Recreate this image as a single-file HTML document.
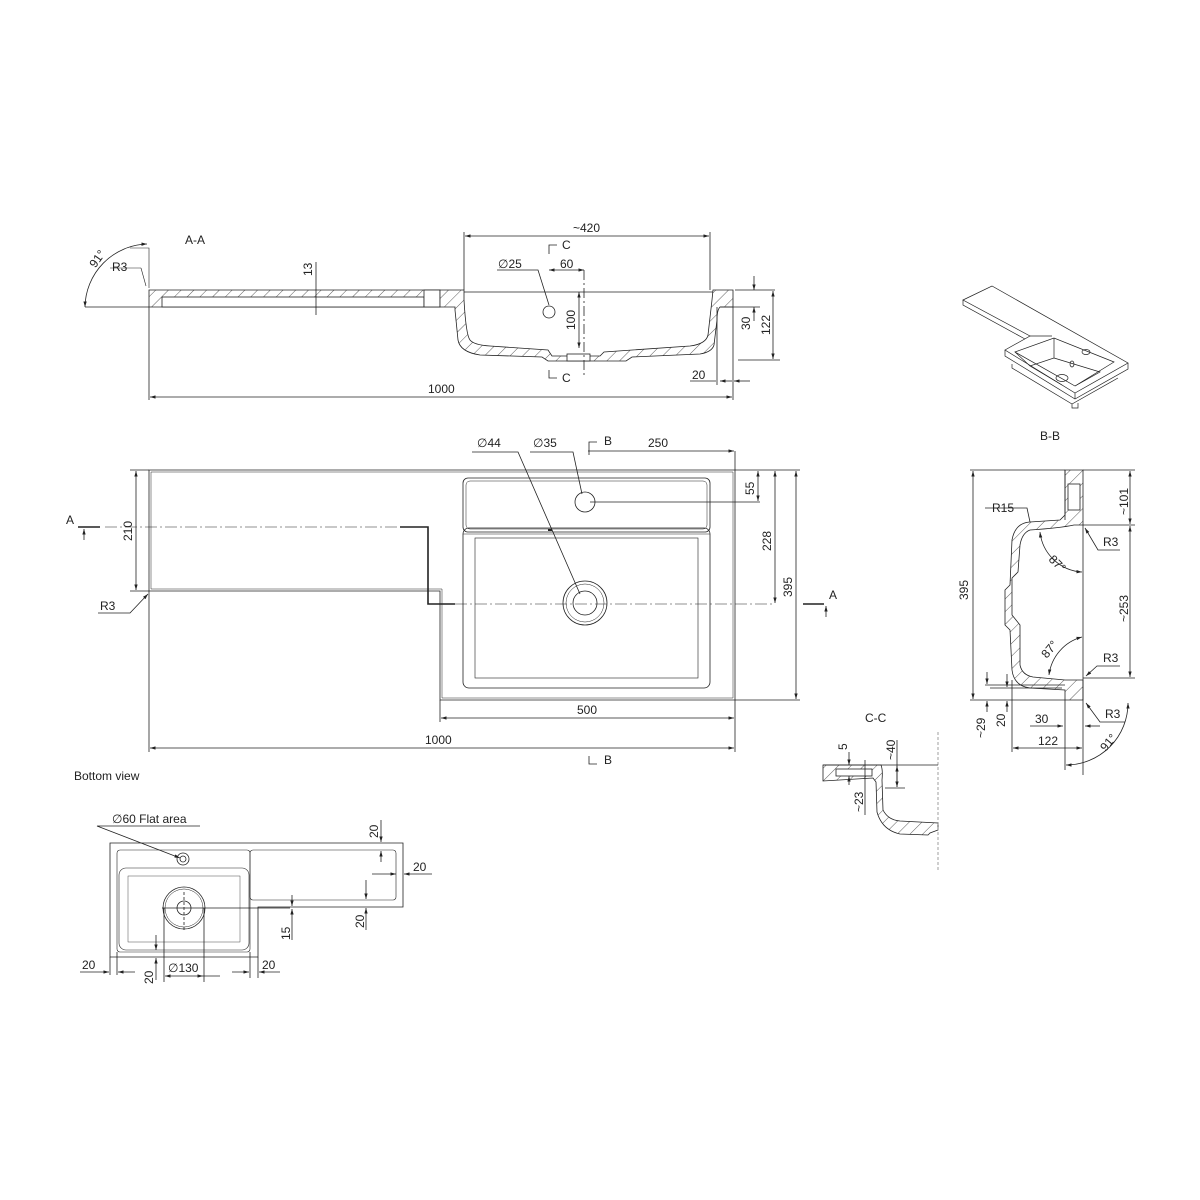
<!DOCTYPE html>
<html><head><meta charset="utf-8"><style>
body{margin:0;background:#fff}
svg{display:block}
text{font-family:"Liberation Sans",sans-serif;font-size:12px;fill:#222}
</style></head><body>
<svg width="1200" height="1200" viewBox="0 0 1200 1200" xmlns="http://www.w3.org/2000/svg">
<defs>
<pattern id="h" patternUnits="userSpaceOnUse" width="9" height="9" patternTransform="rotate(45)">
<rect width="9" height="9" fill="#fff"/><line x1="0" y1="0" x2="0" y2="9" stroke="#333" stroke-width="0.8"/>
</pattern>
<marker id="a" viewBox="0 0 10 10" refX="10" refY="5" markerWidth="7" markerHeight="7" orient="auto-start-reverse"><path d="M0,2 L10,5 L0,8z" fill="#222"/></marker>
</defs>
<g fill="none" stroke="#222" stroke-width="0.8">

<!-- ===== A-A section ===== -->
<text x="185" y="244" stroke="none">A-A</text>
<path d="M149,290 L440,290 L440,307 L149,307 Z" fill="url(#h)"/>
<rect x="162" y="297" width="262" height="10" fill="#fff"/>
<rect x="424" y="290" width="16" height="17" fill="#fff"/>
<path d="M440,290 L464,290 L464,300 Q466,335 470,340 Q474,345 490,346 L548,350 L552,356 L570,356 L600,356 L604,352 L690,346 Q706,344 708,335 L712,300 L713,290 L733,290 L733,307 L720,307 Q717,310 717,320 L714,345 Q712,352 700,354 L632,357 L626,361 L548,361 L542,357 L480,355 Q460,352 458,340 L455,310 L455,307 L440,307 Z" fill="url(#h)"/>
<rect x="567" y="354" width="23" height="7" fill="#fff"/>
<line x1="464" y1="292" x2="713" y2="292"/>
<circle cx="549" cy="312" r="6"/>
<path d="M130,248 L149,248 L149,288 M141,268 L110,268 M141,268 L146,286" stroke-width="0.6"/>
<path d="M147,244 A64,64 0 0 0 85,307" marker-start="url(#a)" marker-end="url(#a)"/>
<text x="92" y="262" transform="rotate(-55 100 262)" stroke="none">91°</text>
<text x="112" y="271" stroke="none">R3</text>
<line x1="149" y1="307" x2="149" y2="400"/>
<line x1="85" y1="307" x2="149" y2="307"/>
<line x1="316" y1="262" x2="316" y2="315"/><text x="312" y="276" transform="rotate(-90 312 276)" stroke="none">13</text>
<line x1="150" y1="397" x2="732" y2="397" marker-start="url(#a)" marker-end="url(#a)"/>
<text x="428" y="393" stroke="none">1000</text>
<line x1="733" y1="307" x2="733" y2="400"/>
<line x1="464" y1="232" x2="464" y2="290"/><line x1="710" y1="232" x2="710" y2="290"/>
<line x1="465" y1="236" x2="709" y2="236" marker-start="url(#a)" marker-end="url(#a)"/>
<text x="573" y="232" stroke="none">~420</text>
<path d="M557,245 L549,245 L549,254 M497,270 L538,270 L549,305"/>
<text x="562" y="249" stroke="none">C</text>
<text x="498" y="268" stroke="none">∅25</text>
<line x1="549" y1="270" x2="584" y2="270" marker-start="url(#a)" marker-end="url(#a)"/>
<text x="560" y="268" stroke="none">60</text>
<line x1="584" y1="270" x2="584" y2="375" stroke-dasharray="10,3,2,3"/>
<line x1="579" y1="292" x2="579" y2="348" marker-start="url(#a)" marker-end="url(#a)"/>
<text x="575" y="330" transform="rotate(-90 575 330)" stroke="none">100</text>
<path d="M557,378 L549,378 L549,370"/><text x="562" y="382" stroke="none">C</text>
<line x1="735" y1="290" x2="775" y2="290"/><line x1="720" y1="307" x2="760" y2="307"/>
<line x1="738" y1="360" x2="780" y2="360"/>
<line x1="754" y1="276" x2="754" y2="290" marker-end="url(#a)"/><line x1="754" y1="321" x2="754" y2="307" marker-end="url(#a)"/>
<text x="750" y="330" transform="rotate(-90 750 330)" stroke="none">30</text>
<line x1="773" y1="291" x2="773" y2="359" marker-start="url(#a)" marker-end="url(#a)"/>
<text x="770" y="335" transform="rotate(-90 770 335)" stroke="none">122</text>
<line x1="717" y1="307" x2="717" y2="385"/>
<line x1="690" y1="381" x2="716" y2="381"/><line x1="720" y1="381" x2="732" y2="381" marker-start="url(#a)"/><line x1="734" y1="381" x2="750" y2="381" marker-start="url(#a)"/>
<text x="692" y="379" stroke="none">20</text>

<!-- ===== plan view ===== -->
<path d="M149,470 L735,470 L735,700 L440,700 L440,591 L149,591 Z"/>
<path d="M151,472 L733,472 L733,698 L442,698 L442,589 L151,589 Z" stroke-width="0.5"/>
<rect x="463" y="478" width="247" height="54" rx="5"/>
<rect x="466" y="481" width="241" height="48" rx="4" stroke-width="0.5"/>
<rect x="463" y="528" width="247" height="160" rx="6"/>
<rect x="475" y="538" width="223" height="140" stroke-width="0.6"/>
<line x1="463" y1="534" x2="710" y2="534" stroke-width="0.5"/>
<circle cx="585" cy="502" r="10"/>
<circle cx="585" cy="603" r="22"/><circle cx="585" cy="603" r="19" stroke-width="0.5"/><circle cx="585" cy="603" r="12"/>
<line x1="548" y1="530" x2="552" y2="530" stroke-width="2"/>
<line x1="105" y1="527" x2="400" y2="527" stroke-dasharray="12,3,2,3" stroke-width="0.6"/>
<path d="M400,527 L428,527 L428,604 L455,604" stroke-width="1.6"/>
<line x1="455" y1="604" x2="775" y2="604" stroke-dasharray="12,3,2,3" stroke-width="0.6"/>
<line x1="78" y1="527" x2="100" y2="527" stroke-width="1.6"/>
<line x1="84" y1="540" x2="84" y2="529" marker-end="url(#a)"/>
<text x="66" y="524" stroke="none">A</text>
<line x1="803" y1="604" x2="824" y2="604" stroke-width="1.6"/>
<line x1="826" y1="617" x2="826" y2="606" marker-end="url(#a)"/>
<text x="829" y="599" stroke="none">A</text>
<line x1="130" y1="470" x2="149" y2="470"/><line x1="130" y1="591" x2="149" y2="591"/>
<line x1="136" y1="471" x2="136" y2="590" marker-start="url(#a)" marker-end="url(#a)"/>
<text x="132" y="541" transform="rotate(-90 132 541)" stroke="none">210</text>
<path d="M98,613 L130,613 L148,594" marker-end="url(#a)"/><text x="100" y="610" stroke="none">R3</text>
<line x1="149" y1="591" x2="149" y2="752"/>
<line x1="150" y1="748" x2="734" y2="748" marker-start="url(#a)" marker-end="url(#a)"/>
<text x="425" y="744" stroke="none">1000</text>
<line x1="735" y1="700" x2="735" y2="752"/><line x1="440" y1="700" x2="440" y2="722"/>
<line x1="441" y1="718" x2="734" y2="718" marker-start="url(#a)" marker-end="url(#a)"/>
<text x="577" y="714" stroke="none">500</text>
<path d="M597,764 L589,764 L589,756"/><text x="604" y="764" stroke="none">B</text>
<path d="M597,442 L589,442 L589,455"/><text x="604" y="445" stroke="none">B</text>
<line x1="588" y1="451" x2="734" y2="451" marker-end="url(#a)"/>
<line x1="735" y1="451" x2="735" y2="470"/>
<text x="648" y="447" stroke="none">250</text>
<line x1="735" y1="470" x2="800" y2="470"/><line x1="735" y1="700" x2="800" y2="700"/>
<line x1="590" y1="502" x2="760" y2="502"/>
<line x1="758" y1="471" x2="758" y2="501" marker-start="url(#a)" marker-end="url(#a)"/>
<text x="754" y="495" transform="rotate(-90 754 495)" stroke="none">55</text>
<line x1="775" y1="471" x2="775" y2="603" marker-start="url(#a)" marker-end="url(#a)"/>
<text x="771" y="551" transform="rotate(-90 771 551)" stroke="none">228</text>
<line x1="796" y1="471" x2="796" y2="699" marker-start="url(#a)" marker-end="url(#a)"/>
<text x="792" y="597" transform="rotate(-90 792 597)" stroke="none">395</text>
<path d="M472,452 L518,452 L580,594"/><text x="477" y="447" stroke="none">∅44</text>
<path d="M530,452 L573,452 L582,494"/><text x="533" y="447" stroke="none">∅35</text>

<!-- ===== 3D view ===== -->
<g stroke-width="0.7">
<path d="M963,300 L992,286 L1128,363 L1075,393 L1005,350 L1030,336 Z" fill="#fff"/>
<path d="M963,300 L963,305 L1025,339"/>
<path d="M1005,350 L1005,356 L1075,399 L1128,369 L1128,363"/>
<path d="M1075,393 L1075,399"/>
<path d="M1030,336 L1052,336"/>
<path d="M1015,352 L1054,338 L1114,362 L1075,386 Z"/>
<path d="M1054,338 L1054,358 L1030,366 L1015,352 M1054,358 L1100,372 L1075,386 M1030,366 L1062,385"/>
<ellipse cx="1062" cy="378" rx="6" ry="3.5"/><ellipse cx="1086" cy="352" rx="4" ry="2.5"/><ellipse cx="1072" cy="364" rx="2" ry="3"/>
<path d="M1012,364 L1012,368 L1072,404 L1118,378 M1072,404 L1072,408 L1078,408 L1078,403"/>
</g>

<!-- ===== B-B ===== -->
<text x="1040" y="440" stroke="none">B-B</text>
<path d="M1065,470 L1083,470 L1083,525 L1074,525 Q1060,528 1030,530 Q1022,533 1020,545 L1018,572 L1012,578 L1012,615 L1020,625 L1020,665 Q1022,675 1033,677 L1065,680 L1083,680 L1083,700 L1065,700 L1065,690 L1030,688 Q1014,686 1012,670 L1010,630 L1005,625 L1005,590 L1010,585 L1012,540 Q1015,523 1030,522 L1060,520 L1065,515 Z" fill="url(#h)"/>
<rect x="1068" y="484" width="12" height="26" fill="#fff"/>
<line x1="1065" y1="470" x2="1065" y2="520"/>
<line x1="970" y1="470" x2="1065" y2="470"/><line x1="970" y1="700" x2="1065" y2="700"/>
<line x1="973" y1="471" x2="973" y2="699" marker-start="url(#a)" marker-end="url(#a)"/>
<text x="968" y="600" transform="rotate(-90 968 600)" stroke="none">395</text>
<line x1="1083" y1="470" x2="1135" y2="470"/><line x1="1083" y1="525" x2="1135" y2="525"/><line x1="1083" y1="678" x2="1135" y2="678"/>
<line x1="1130" y1="471" x2="1130" y2="524" marker-start="url(#a)" marker-end="url(#a)"/>
<text x="1128" y="515" transform="rotate(-90 1128 515)" stroke="none">~101</text>
<line x1="1130" y1="526" x2="1130" y2="677" marker-start="url(#a)" marker-end="url(#a)"/>
<text x="1128" y="622" transform="rotate(-90 1128 622)" stroke="none">~253</text>
<line x1="1083" y1="525" x2="1083" y2="775"/>
<path d="M985,508 L1027,508 L1030,522" /><text x="992" y="512" stroke="none">R15</text>
<path d="M1120,550 L1098,550 L1085,528" marker-end="url(#a)"/><text x="1103" y="546" stroke="none">R3</text>
<path d="M1120,666 L1097,666 L1086,676" marker-end="url(#a)"/><text x="1103" y="662" stroke="none">R3</text>
<path d="M1125,722 L1100,722 L1086,703" marker-end="url(#a)"/><text x="1105" y="718" stroke="none">R3</text>
<path d="M1040,532 A45,45 0 0 0 1082,572" marker-start="url(#a)" marker-end="url(#a)"/>
<text x="1048" y="560" transform="rotate(45 1048 560)" stroke="none">87°</text>
<path d="M1082,637 A45,45 0 0 0 1049,675" marker-start="url(#a)" marker-end="url(#a)"/>
<text x="1045" y="655" transform="rotate(-50 1050 655)" stroke="none">87°</text>
<path d="M1128,703 A62,62 0 0 1 1066,765" marker-start="url(#a)" marker-end="url(#a)"/>
<text x="1100" y="750" transform="rotate(-50 1105 745)" stroke="none">91°</text>
<line x1="1065" y1="700" x2="1065" y2="770"/><line x1="1012" y1="680" x2="1012" y2="752"/>
<line x1="985" y1="685" x2="1065" y2="685"/><line x1="990" y1="688" x2="1062" y2="688"/>
<line x1="987" y1="672" x2="987" y2="684" marker-end="url(#a)"/><line x1="987" y1="712" x2="987" y2="701" marker-end="url(#a)"/>
<text x="985" y="738" transform="rotate(-90 985 738)" stroke="none">~29</text>
<line x1="1007" y1="674" x2="1007" y2="687" marker-end="url(#a)"/><line x1="1007" y1="712" x2="1007" y2="701" marker-end="url(#a)"/>
<text x="1005" y="727" transform="rotate(-90 1005 727)" stroke="none">20</text>
<line x1="1030" y1="726" x2="1063" y2="726" marker-end="url(#a)"/><line x1="1100" y1="726" x2="1085" y2="726" marker-end="url(#a)"/>
<text x="1035" y="723" stroke="none">30</text>
<line x1="1013" y1="748" x2="1082" y2="748" marker-start="url(#a)" marker-end="url(#a)"/>
<text x="1038" y="745" stroke="none">122</text>

<!-- ===== C-C ===== -->
<text x="865" y="722" stroke="none">C-C</text>
<path d="M823,765 L881,765 Q883,770 882,780 L883,810 Q888,820 900,821 L938,823 L938,830 L930,833 L928,835 L900,834 Q882,830 877,812 L876,782 L873,778 L823,781 Z" fill="url(#h)"/>
<rect x="836" y="769" width="36" height="7" fill="#fff"/>
<line x1="938" y1="732" x2="938" y2="870" stroke-dasharray="3,2" stroke="#888"/>
<line x1="823" y1="765" x2="938" y2="765"/>
<line x1="849" y1="752" x2="849" y2="765" marker-end="url(#a)"/><line x1="849" y1="785" x2="849" y2="776" marker-end="url(#a)"/>
<text x="847" y="750" transform="rotate(-90 847 750)" stroke="none">5</text>
<line x1="865" y1="760" x2="865" y2="815"/>
<text x="863" y="812" transform="rotate(-90 863 812)" stroke="none">~23</text>
<line x1="885" y1="788" x2="905" y2="788"/>
<line x1="897" y1="740" x2="897" y2="787" />
<line x1="897" y1="766" x2="897" y2="787" marker-start="url(#a)" marker-end="url(#a)"/>
<text x="895" y="760" transform="rotate(-90 895 760)" stroke="none">~40</text>

<!-- ===== Bottom view ===== -->
<text x="74" y="780" stroke="none">Bottom view</text>
<path d="M110,843 L403,843 L403,907 L258,907 L258,957 L110,957 Z"/>
<rect x="117" y="850" width="133" height="102" rx="3" stroke-width="0.6"/>
<rect x="250" y="850" width="146" height="50" rx="3" stroke-width="0.6"/>
<rect x="119" y="868" width="130" height="82" rx="7" stroke-width="0.6"/>
<rect x="128" y="876" width="112" height="66" stroke-width="0.4"/>
<circle cx="183" cy="859" r="6"/><circle cx="183" cy="859" r="3"/>
<circle cx="184" cy="908" r="21"/><circle cx="184" cy="908" r="19" stroke-width="0.5"/><circle cx="184" cy="908" r="7"/>
<line x1="162" y1="908" x2="290" y2="908" /><line x1="184" y1="892" x2="184" y2="932" stroke-dasharray="3,2"/>
<path d="M200,826 L97,826 L180,858" marker-end="url(#a)"/>
<text x="112" y="823" stroke="none">∅60 Flat area</text>
<line x1="381" y1="820" x2="381" y2="842" marker-end="url(#a)"/><line x1="381" y1="862" x2="381" y2="851" marker-end="url(#a)"/>
<text x="378" y="838" transform="rotate(-90 378 838)" stroke="none">20</text>
<line x1="372" y1="874" x2="396" y2="874" marker-end="url(#a)"/><line x1="432" y1="874" x2="404" y2="874" marker-end="url(#a)"/>
<text x="413" y="871" stroke="none">20</text>
<line x1="366" y1="880" x2="366" y2="899" marker-end="url(#a)"/><line x1="366" y1="930" x2="366" y2="908" marker-end="url(#a)"/>
<text x="364" y="928" transform="rotate(-90 364 928)" stroke="none">20</text>
<line x1="292" y1="895" x2="292" y2="906" marker-end="url(#a)"/><line x1="292" y1="940" x2="292" y2="909" marker-end="url(#a)"/>
<text x="290" y="940" transform="rotate(-90 290 940)" stroke="none">15</text>
<line x1="110" y1="957" x2="110" y2="975"/><line x1="117" y1="952" x2="117" y2="975"/>
<line x1="80" y1="972" x2="109" y2="972" marker-end="url(#a)"/><line x1="135" y1="972" x2="118" y2="972" marker-end="url(#a)"/>
<text x="82" y="969" stroke="none">20</text>
<line x1="156" y1="935" x2="156" y2="950" marker-end="url(#a)"/><line x1="156" y1="980" x2="156" y2="958" marker-end="url(#a)"/>
<text x="153" y="984" transform="rotate(-90 153 984)" stroke="none">20</text>
<line x1="164" y1="908" x2="164" y2="982"/><line x1="204" y1="908" x2="204" y2="982"/>
<line x1="165" y1="976" x2="203" y2="976" marker-start="url(#a)" marker-end="url(#a)"/>
<line x1="203" y1="976" x2="220" y2="976"/>
<text x="168" y="972" stroke="none">∅130</text>
<line x1="250" y1="952" x2="250" y2="978"/><line x1="258" y1="957" x2="258" y2="978"/>
<line x1="232" y1="972" x2="249" y2="972" marker-end="url(#a)"/><line x1="280" y1="972" x2="259" y2="972" marker-end="url(#a)"/>
<text x="262" y="969" stroke="none">20</text>
</g>
</svg>
</body></html>
